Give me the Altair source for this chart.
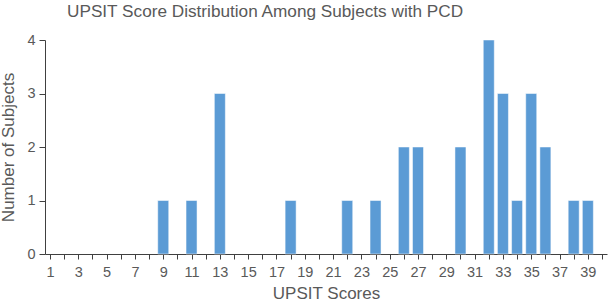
import altair as alt
import pandas as pd

scores = [9, 11, 13, 18, 22, 24, 26, 27, 30, 32, 33, 34, 35, 36, 38, 39]
counts = [1, 1, 3, 1, 1, 1, 2, 2, 2, 4, 3, 1, 3, 2, 1, 1]
x_ticks = list(range(1, 41))

df = pd.DataFrame({"score": scores, "count": counts})

gray = "#595959"
axis_col = "#404040"
font = "Liberation Sans"

chart = alt.Chart(df).mark_bar(size=11, color="#5B9BD5", stroke="#ffffff", strokeWidth=0.5).encode(
    x=alt.X("score:Q",
            scale=alt.Scale(domain=[1, 40], nice=False, zero=False),
            axis=alt.Axis(values=x_ticks, title="UPSIT Scores",
                          labelExpr="(datum.value % 2 == 1 && datum.value < 40) ? datum.label : ''",
                          grid=False, tickSize=5, labelPadding=6, titlePadding=7,
                          labelFontSize=14.5, titleFontSize=17, labelFlush=False,
                          labelColor=gray, titleColor=gray, labelFont=font, titleFont=font,
                          titleFontWeight="normal",
                          domainColor=axis_col, tickColor=axis_col)),
    y=alt.Y("count:Q",
            scale=alt.Scale(domain=[0, 4], nice=False),
            axis=alt.Axis(values=[0, 1, 2, 3, 4], title="Number of Subjects", grid=False,
                          tickSize=6, labelPadding=4, titlePadding=9,
                          labelFontSize=14.5, titleFontSize=17,
                          labelColor=gray, titleColor=gray, labelFont=font, titleFont=font,
                          titleFontWeight="normal",
                          domainColor=axis_col, tickColor=axis_col)),
).properties(
    width=562,
    height=214,
    title=alt.TitleParams("UPSIT Score Distribution Among Subjects with PCD",
                          anchor="start", frame="group", dx=22, offset=12, fontSize=17.2,
                          font=font, fontWeight="normal", color=gray),
    autosize=alt.AutoSizeParams(type="none"),
    padding={"left": 45, "top": 40, "right": 2, "bottom": 51},
).configure_view(stroke=None)

chart.save("out.html", embed_options={"renderer": "svg", "actions": False})
